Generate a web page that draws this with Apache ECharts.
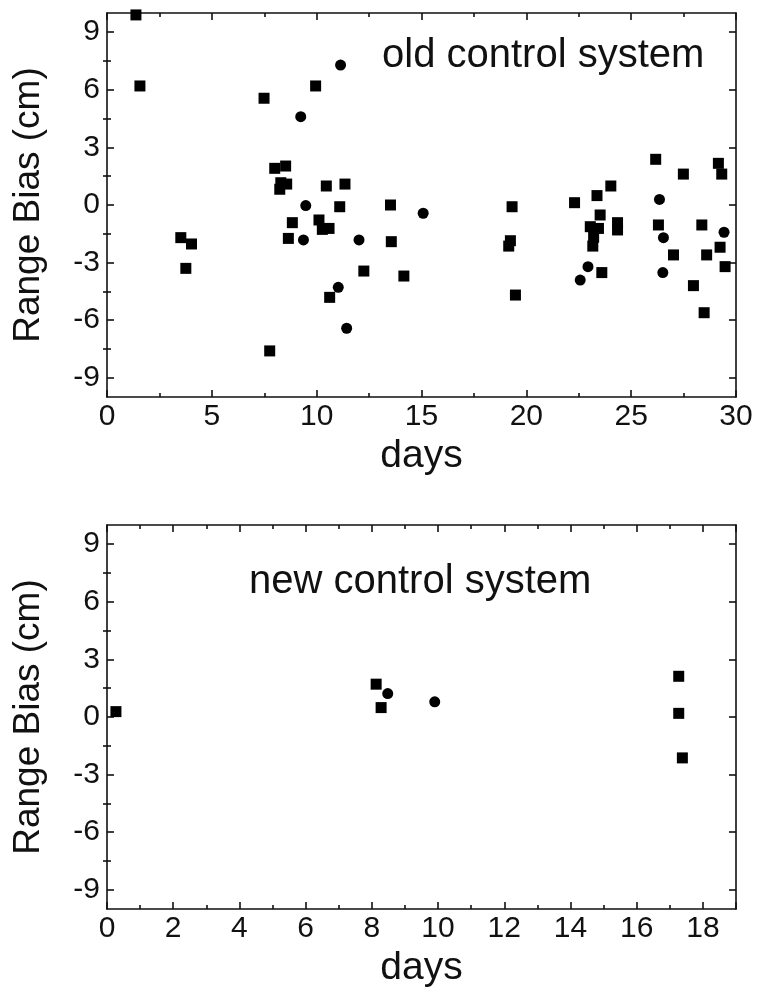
<!DOCTYPE html>
<html>
<head>
<meta charset="utf-8">
<script src="https://cdn.jsdelivr.net/npm/echarts@6/dist/echarts.min.js"></script>
<style>
html,body{margin:0;padding:0;background:#fff;}
#chart{width:758px;height:1000px;}
</style>
</head>
<body>
<div id="chart"></div>
<script>
// ---- data ----
const oldSquareDays = [1.38,1.57,7.49,9.95,8.0,8.52,8.29,8.57,8.24,10.46,11.35,11.1,13.52,8.84,10.11,10.27,10.59,3.52,4.03,8.65,13.56,3.76,12.25,14.16,10.62,7.76,19.32,19.24,19.16,19.48,22.3,23.37,24.03,23.52,23.05,23.44,23.21,23.17,24.35,24.35,23.6,26.17,26.3,27.02,27.49,28.37,28.6,27.97,28.48,29.16,29.32,29.24,29.48];
const oldSquareBias = [9.9,6.2,5.56,6.2,1.91,2.03,1.16,1.09,0.82,0.99,1.09,-0.09,0.0,-0.92,-0.78,-1.27,-1.22,-1.7,-2.03,-1.74,-1.91,-3.3,-3.44,-3.7,-4.81,-7.6,-0.09,-1.86,-2.14,-4.69,0.12,0.49,0.99,-0.52,-1.13,-1.22,-1.68,-2.14,-0.92,-1.30,-3.52,2.38,-1.04,-2.6,1.61,-1.04,-2.6,-4.2,-5.61,2.17,1.61,-2.2,-3.21];
const oldCircleDays = [11.14,9.24,9.48,15.08,9.37,12.02,11.03,11.43,22.94,22.57,26.35,26.54,26.51,29.43];
const oldCircleBias = [7.29,4.6,-0.03,-0.43,-1.82,-1.82,-4.29,-6.42,-3.21,-3.91,0.29,-1.7,-3.52,-1.42];
const newSquareDays = [0.27,8.13,8.28,17.27,17.27,17.38];
const newSquareBias = [0.28,1.71,0.49,2.12,0.19,-2.13];
const newCircleDays = [8.48,9.9];
const newCircleBias = [1.22,0.79];

const yTickValues = [-9,-6,-3,0,3,6,9];
const yMinorValues = [-7.5,-4.5,-1.5,1.5,4.5,7.5];
const titles = ['old control system','new control system'];
const xName = 'days';
const yName = 'Range Bias (cm)';

const zip = (a,b) => a.map((v,i) => [v,b[i]]);

const FONT = "'Liberation Sans', Arial, sans-serif";
const INK = '#111';
const lineStyle = {color: INK, width: 1.6};

function xAxes(gridIndex, max, interval, showMax) {
  return [
    {type:'value', gridIndex, position:'bottom', min:0, max, interval,
     axisLine:{show:true, onZero:false, lineStyle},
     axisTick:{show:true, inside:true, length:7, lineStyle},
     minorTick:{show:true, splitNumber:2, length:4, lineStyle},
     splitLine:{show:false},
     axisLabel:{show:true, margin:5, fontSize:30, color:INK, fontFamily:FONT, showMaxLabel:showMax},
     name:xName, nameLocation:'middle', nameGap:40,
     nameTextStyle:{fontSize:39, color:INK, fontFamily:FONT}},
    {type:'value', gridIndex, position:'top', min:0, max, interval,
     axisLine:{show:true, onZero:false, lineStyle},
     axisTick:{show:true, inside:true, length:7, lineStyle},
     minorTick:{show:true, splitNumber:2, length:4, lineStyle},
     splitLine:{show:false}, axisLabel:{show:false}}
  ];
}
function yAxes(gridIndex) {
  const base = {type:'value', gridIndex, min:-10, max:10, splitLine:{show:false}};
  return [
    Object.assign({}, base, {position:'left',
      axisLine:{show:true, onZero:false, lineStyle},
      axisTick:{show:true, inside:true, length:7, lineStyle, customValues:yTickValues},
      axisLabel:{show:true, margin:7, fontSize:30, color:INK, fontFamily:FONT, customValues:yTickValues},
      name:yName, nameLocation:'middle', nameGap:60, nameRotate:90,
      nameTextStyle:{fontSize:37, color:INK, fontFamily:FONT}}),
    Object.assign({}, base, {position:'left',
      axisLine:{show:false},
      axisTick:{show:true, inside:true, length:4, lineStyle, customValues:yMinorValues},
      axisLabel:{show:false}}),
    Object.assign({}, base, {position:'right',
      axisLine:{show:true, onZero:false, lineStyle},
      axisTick:{show:true, inside:true, length:7, lineStyle, customValues:yTickValues},
      axisLabel:{show:false}}),
    Object.assign({}, base, {position:'right',
      axisLine:{show:false},
      axisTick:{show:true, inside:true, length:4, lineStyle, customValues:yMinorValues},
      axisLabel:{show:false}})
  ];
}

const xAxis = [...xAxes(0, 30, 5, true), ...xAxes(1, 19, 2, false)];
const yAxis = [...yAxes(0), ...yAxes(1)];

function scatter(data, symbol, xi, yi) {
  return {type:'scatter', data, symbol, symbolSize:11, xAxisIndex:xi, yAxisIndex:yi,
          itemStyle:{color:'#000', opacity:1}, silent:true, clip:false};
}

const option = {
  animation:false,
  backgroundColor:'#fff',
  textStyle:{fontFamily:FONT},
  title:[
    {text:titles[0], left:382, top:36, padding:0,
     textStyle:{fontSize:40, fontWeight:'normal', color:INK, fontFamily:FONT}},
    {text:titles[1], left:249, top:562, padding:0,
     textStyle:{fontSize:40, fontWeight:'normal', color:INK, fontFamily:FONT}}
  ],
  grid:[
    {left:107, top:13, width:629, height:384},
    {left:107, top:525, width:629, height:384}
  ],
  xAxis, yAxis,
  series:[
    scatter(zip(oldSquareDays, oldSquareBias), 'rect', 0, 0),
    scatter(zip(oldCircleDays, oldCircleBias), 'circle', 0, 0),
    scatter(zip(newSquareDays, newSquareBias), 'rect', 2, 4),
    scatter(zip(newCircleDays, newCircleBias), 'circle', 2, 4)
  ]
};

const chart = echarts.init(document.getElementById('chart'), null, {renderer:'canvas'});
chart.setOption(option);
</script>
</body>
</html>
